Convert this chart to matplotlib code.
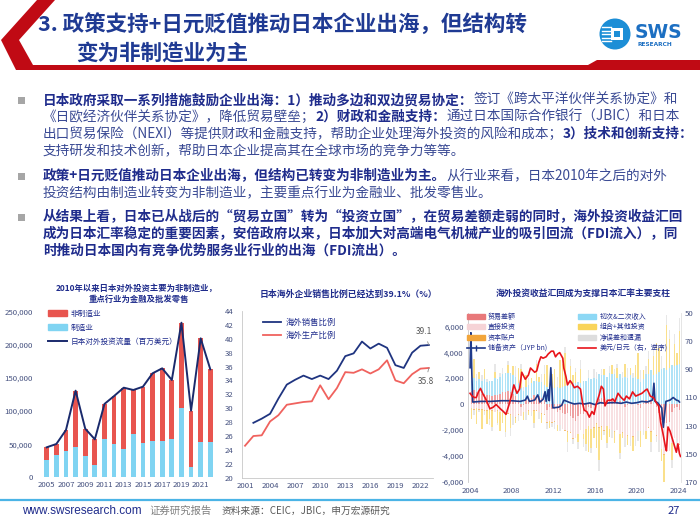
import numpy as np
import matplotlib
matplotlib.use("Agg")
import matplotlib.pyplot as plt
from matplotlib.patches import Polygon, Rectangle, Circle, Patch
from matplotlib.lines import Line2D
from matplotlib.ticker import FuncFormatter, MultipleLocator

plt.rcParams["font.family"] = ["Noto Sans CJK SC", "DejaVu Sans"]
plt.rcParams["axes.unicode_minus"] = False

NAVY = "#1F2C8C"
BODY = "#3A4A94"
TICK = "#44507F"
GRAY_SPINE = "#C8C8C8"

# ---- chart 1: Japan outward FDI (USD mn)
fdi_years = list(range(2005, 2023))
fdi_manuf = [26000, 33700, 39700, 45300, 32700, 18100, 58300, 50300, 43300,
             65400, 51300, 54300, 55300, 57800, 105100, 16100, 52800, 52800]
fdi_nonmanuf = [19300, 16600, 31700, 85500, 40700, 39200, 52400, 72400, 92000,
                66400, 85500, 102700, 109200, 89100, 128300, 84500, 157000, 110200]

# ---- chart 2: overseas sales / production ratio (%)
sales_years = list(range(2002, 2024))
sales_ratio = [27.9, 28.5, 29.2, 31.4, 33.4, 34.1, 34.7, 34.2, 34.7, 34.2, 35.4,
               37.5, 37.9, 39.6, 38.6, 39.3, 38.7, 36.2, 35.8, 38.0, 39.0, 39.1]
prod_years = list(range(2001, 2024))
prod_ratio = [24.6, 26.0, 26.1, 28.1, 29.0, 30.5, 30.7, 30.9, 31.0, 33.3, 31.3, 32.9,
              35.2, 35.1, 35.6, 35.0, 35.6, 36.9, 34.0, 33.6, 34.9, 35.7, 35.8]

# ---- chart 3: balance of payments components (JPY bn, quarterly, 2004Q1-2024Q1)
bop_start = 2004
trade = [1000, 1100, 900, 900, 800, 800, 700, 700, 600, 700, 700, 800,
         900, 900, 1000, 900, 800, 600, 300, -200, -100, 300, 400, 500,
         700, 600, 600, 500, 300, -500, -200, -400, -400, -600, -500, -700,
         -800, -700, -900, -1100, -1300, -900, -800, -800, -500, -200, -300, -100,
         100, 400, 500, 400, 300, 400, 400, 300, 100, 200, 0, -200,
         -100, 0, 0, 0, -100, -300, 100, 300, 200, 300, 0, -200,
         -700, -1200, -1500, -1500, -1400, -600, -300, -200, -500]
direct_inv = [-300, -400, -300, -400, -400, -500, -500, -400, -500, -600, -500, -600,
              -600, -800, -700, -800, -900, -1000, -800, -700, -500, -600, -500, -600,
              -500, -500, -600, -700, -800, -900, -1100, -1000, -900, -1000, -1100, -1200,
              -1200, -1400, -1300, -1500, -1300, -1400, -1200, -1500, -1400, -1500, -1600, -1700,
              -1500, -1800, -1700, -2000, -1700, -1900, -2000, -2100, -2000, -2300, -2200, -2400,
              -2300, -2600, -2500, -2700, -2000, -1800, -1900, -2100, -1800, -2100, -2000, -2200,
              -2100, -2300, -2400, -2200, -2200, -2400, -2300, -2500, -2600]
capital_annual = [-30, -40, -50, -40, -50, -30, -40, -40, -60, -70, -40,
                  -20, -60, -30, -20, -40, -20, -40, -10, -40, -30]
income = [800, 900, 900, 1000, 1000, 1100, 1000, 1100, 1200, 1300, 1200, 1300,
          1400, 1500, 1400, 1500, 1400, 1500, 1300, 1200, 1000, 1000, 1100, 1100,
          1100, 1200, 1100, 1200, 1200, 1300, 1200, 1200, 1200, 1300, 1200, 1300,
          1400, 1600, 1500, 1600, 1600, 1700, 1600, 1800, 1800, 2000, 1900, 2000,
          1800, 1900, 1700, 1800, 1800, 2000, 1900, 2000, 1900, 2100, 2000, 2100,
          2000, 2200, 2000, 2100, 1900, 1700, 1800, 2000, 2100, 2300, 2200, 2300,
          2500, 2700, 2800, 2600, 2800, 3000, 2900, 3000, 3100]
portfolio = [-800, 1500, -1200, 600, -1500, 800, -1000, -700, -1200, 500, -900, -1400,
             -800, -1300, 600, -1000, 700, -400, 1200, 1500, -600, 900, -300, 400,
             -900, 1300, 400, -700, 800, 1700, -500, 1100, 1500, -400, 2200, 1800,
             2500, -800, 1400, 600, 900, -600, 1100, -400, -1200, -2000, -1500, -800,
             -1800, -2500, -1000, 500, -1300, -600, 700, -900, 800, -1500, -400, 1000,
             -700, 600, -1100, 900, 2000, -1200, 700, -600, 1200, -800, 1500, 2400,
             1800, -900, -5000, 3500, 2200, -1300, 1700, 900, 2500]
errors = [300, -400, 500, -200, 400, -300, 200, -500, -300, 600, -200, 300,
          500, -400, 300, -600, -700, 800, -500, 400, 300, -600, 500, -300,
          -400, 300, -500, 600, 700, -500, 400, -300, -600, 800, -400, 500,
          500, -700, 600, -400, 300, -500, 700, -600, -500, 600, -400, 700,
          600, -800, 500, -300, -400, 500, -600, 400, 300, -400, 500, -700,
          800, -600, 400, -500, -700, 900, -500, 600, 600, -800, 700, -500,
          -900, 1000, -700, 800, 700, -600, 800, -900, 1000]

reserve_t = [2004.0, 2004.08, 2004.17, 2004.25, 2005.0, 2006.0, 2007.0, 2008.0, 2008.8,
             2009.3, 2009.5, 2009.7, 2010.2, 2010.5, 2010.7, 2011.0, 2011.2, 2011.3,
             2011.5, 2011.6, 2011.75, 2011.85, 2011.95, 2012.5, 2012.8, 2013.0, 2013.3,
             2013.6, 2014.0, 2014.5, 2015.0, 2015.5, 2016.0, 2016.5, 2017.0, 2017.5,
             2018.0, 2018.5, 2019.0, 2019.5, 2020.0, 2020.5, 2021.0, 2021.5, 2021.65,
             2021.75, 2022.0, 2022.4, 2022.55, 2022.7, 2022.8, 2023.2, 2023.5, 2023.8,
             2024.0, 2024.1]
reserve_v = [2800, 5500, 2300, 150, 200, 200, 250, 250, 200,
             300, 600, 200, 300, 700, 150, 350, 950, 200,
             1100, 250, 2800, 1200, -300, -250, -100, 300, 200,
             100, 0, 50, 0, 80, -50, 100, 50, 100,
             100, 50, 150, 50, 100, 200, 150, 300, 1600,
             200, 100, -300, -1800, -600, 200, 300, 500, 300,
             250, 150]

usdjpy_t = [2004.0, 2004.2, 2004.4, 2004.6, 2004.8, 2005.0, 2005.2, 2005.5, 2005.9, 2006.2,
            2006.5, 2006.9, 2007.2, 2007.45, 2007.7, 2008.0, 2008.2, 2008.5, 2008.75, 2008.96,
            2009.3, 2009.6, 2009.8, 2010.2, 2010.4, 2010.6, 2010.8, 2011.0, 2011.3, 2011.5,
            2011.8, 2012.0, 2012.2, 2012.4, 2012.6, 2012.9, 2013.0, 2013.2, 2013.35, 2013.6,
            2013.8, 2014.0, 2014.3, 2014.6, 2014.8, 2014.95, 2015.2, 2015.45, 2015.7, 2015.9,
            2016.1, 2016.4, 2016.6, 2016.8, 2016.95, 2017.2, 2017.5, 2017.7, 2017.9, 2018.2,
            2018.5, 2018.8, 2019.0, 2019.3, 2019.6, 2019.9, 2020.2, 2020.5, 2020.8, 2021.0,
            2021.3, 2021.6, 2021.9, 2022.1, 2022.3, 2022.5, 2022.75, 2022.85, 2023.0, 2023.2,
            2023.4, 2023.6, 2023.8, 2023.95, 2024.1, 2024.2]
usdjpy_v = [107, 109, 110, 110, 106, 103.5, 107, 111, 118, 117,
            115, 118, 120, 122, 116, 108, 101, 107, 104, 92,
            97, 94, 89, 92, 91, 85, 81, 82, 81, 79,
            77, 77, 81, 79, 78, 82, 89, 95, 101, 98,
            100, 103, 102, 104, 114, 119, 120, 124, 120, 122,
            115, 108, 102, 104, 116, 112, 112, 111, 113, 107,
            110, 112, 109, 111, 106, 109, 108, 107, 105, 104,
            109, 110, 114, 116, 128, 135, 145, 148, 131, 134,
            139, 144, 149, 143, 150, 152]

fig = plt.figure(figsize=(7, 5.25), dpi=100)
fig.patch.set_facecolor("white")

# full-figure overlay in pixel units for the slide decoration and text
bg = fig.add_axes([0, 0, 1, 1])
bg.set_xlim(0, 700)
bg.set_ylim(525, 0)
bg.axis("off")

# header ribbon
bg.add_patch(Polygon([(37, 0), (55, 0), (19, 40), (33, 65), (588, 65), (597, 60),
                      (700, 60), (700, 70), (16, 70), (1, 40)],
                     closed=True, color="#C00A14", lw=0))
bg.text(38, 25, "3. 政策支持+日元贬值推动日本企业出海，但结构转", fontsize=15.5,
        fontweight="bold", color="#1F3A93", va="center")
bg.text(76, 53, "变为非制造业为主", fontsize=15.5, fontweight="bold",
        color="#1F3A93", va="center")

# logo
bg.add_patch(Circle((615, 34), 15.5, color="#1C8ED6", lw=0))
for yy in [27, 30.5, 34, 37.5, 41]:
    bg.plot([602, 611], [yy, yy], color="white", lw=1.0)
bg.add_patch(Rectangle((611, 28), 12, 12, color="white", lw=0))
bg.add_patch(Rectangle((614, 31), 6, 6, color="#1C8ED6", lw=0))
bg.text(635, 32, "SWS", fontsize=13.5, fontweight="bold", color="#1C6FC2",
        va="center", family=["DejaVu Sans"])
bg.text(637, 45, "RESEARCH", fontsize=4.2, fontweight="bold", color="#1C6FC2",
        va="center", family=["DejaVu Sans"])

# body bullets
B, N = True, False
paragraphs = [
    [[("日本政府采取一系列措施鼓励企业出海：1）推动多边和双边贸易协定：", B),
      ("签订《跨太平洋伙伴关系协定》和", N)],
     [("《日欧经济伙伴关系协定》，降低贸易壁垒；", N), ("2）财政和金融支持：", B),
      ("通过日本国际合作银行（JBIC）和日本", N)],
     [("出口贸易保险（NEXI）等提供财政和金融支持，帮助企业处理海外投资的风险和成本；", N),
      ("3）技术和创新支持：", B)],
     [("支持研发和技术创新，帮助日本企业提高其在全球市场的竞争力等等。", N)]],
    [[("政策+日元贬值推动日本企业出海，但结构已转变为非制造业为主。", B),
      ("从行业来看，日本2010年之后的对外", N)],
     [("投资结构由制造业转变为非制造业，主要重点行业为金融业、批发零售业。", N)]],
    [[("从结果上看，日本已从战后的“贸易立国”转为“投资立国”，在贸易差额走弱的同时，海外投资收益汇回", B)],
     [("成为日本汇率稳定的重要因素，安倍政府以来，日本加大对高端电气机械产业的吸引回流（FDI流入），同", B)],
     [("时推动日本国内有竞争优势服务业行业的出海（FDI流出）。", B)]],
]
line_y = [[100, 117, 134, 151], [176, 193], [217, 234, 251]]

fig.canvas.draw()
renderer = fig.canvas.get_renderer()
for para, ys in zip(paragraphs, line_y):
    bg.add_patch(Rectangle((18, ys[0] - 3.5), 7, 7, color="#A6A6A6", lw=0))
    for segs, y in zip(para, ys):
        x = 43
        for s, bold in segs:
            t = bg.text(x, y, s, fontsize=9.8, va="center", ha="left",
                        fontweight="bold" if bold else "normal",
                        color=NAVY if bold else BODY)
            x += t.get_window_extent(renderer=renderer).width

# footer
bg.plot([0, 700], [500, 500], color="#4BB4E6", lw=1.6)
bg.text(22, 511, "www.swsresearch.com", fontsize=8.5, color=NAVY, va="center",
        family=["Liberation Sans", "DejaVu Sans"])
bg.text(149, 511, "证券研究报告", fontsize=7.5, color="#808080", va="center")
bg.text(222, 511, "资料来源：CEIC，JBIC，申万宏源研究", fontsize=7, color="#595959", va="center")
bg.text(668, 511, "27", fontsize=8, color=NAVY, va="center")

# chart titles
bg.text(137, 288, "2010年以来日本对外投资主要为非制造业，", ha="center", va="center",
        fontsize=6, fontweight="bold", color=NAVY)
bg.text(139, 299, "重点行业为金融及批发零售", ha="center", va="center",
        fontsize=6, fontweight="bold", color=NAVY)
bg.text(348, 294, "日本海外企业销售比例已经达到39.1%（%）", ha="center", va="center",
        fontsize=6.4, fontweight="bold", color=NAVY)
bg.text(583, 293, "海外投资收益汇回成为支撑日本汇率主要支柱", ha="center", va="center",
        fontsize=6.3, fontweight="bold", color=NAVY)


def px_axes(left, top, right, bottom):
    return fig.add_axes([left / 700, 1 - bottom / 525, (right - left) / 700, (bottom - top) / 525])


# ---- chart 1
ax1 = px_axes(40, 311.7, 218, 477.3)
ax1.set_facecolor("none")
total = np.array(fdi_manuf) + np.array(fdi_nonmanuf)
ax1.bar(fdi_years, fdi_manuf, width=0.5, color="#80D4F2", lw=0)
ax1.bar(fdi_years, fdi_nonmanuf, bottom=fdi_manuf, width=0.5, color="#E8554F", lw=0)
ax1.plot(fdi_years, total, color="#1A2A6C", lw=1.4)
ax1.set_xlim(2004.3, 2022.8)
ax1.set_ylim(0, 250000)
ax1.set_xticks(range(2005, 2022, 2))
ax1.yaxis.set_major_locator(MultipleLocator(50000))
ax1.yaxis.set_major_formatter(FuncFormatter(lambda v, p: f"{v:,.0f}"))
ax1.tick_params(axis="both", length=0, labelsize=5.6, labelcolor=TICK)
ax1.tick_params(axis="y", pad=5)
ax1.tick_params(axis="x", pad=3)
for s in ax1.spines.values():
    s.set_visible(False)
ax1.legend(handles=[Patch(color="#E8554F"), Patch(color="#80D4F2"),
                    Line2D([], [], color="#1A2A6C", lw=1.4)],
           labels=["非制造业", "制造业", "日本对外投资流量（百万美元）"],
           loc="upper left", bbox_to_anchor=(0.03, 1.03), frameon=False,
           fontsize=5.5, labelcolor=NAVY, handlelength=2.4, handleheight=0.8,
           labelspacing=0.8, handletextpad=0.5, borderaxespad=0)

# ---- chart 2
ax2 = px_axes(242, 311, 433, 477.7)
ax2.set_facecolor("none")
ax2.plot(sales_years, sales_ratio, color="#1F3480", lw=1.3, label="海外销售比例")
ax2.plot(prod_years, prod_ratio, color="#F0625E", lw=1.3, label="海外生产比例")
ax2.set_xlim(2000.64, 2023.5)
ax2.set_ylim(20, 44)
ax2.set_xticks(range(2001, 2023, 3))
ax2.yaxis.set_major_locator(MultipleLocator(2))
ax2.tick_params(axis="both", length=0, labelsize=5.6, labelcolor=TICK)
ax2.tick_params(axis="y", pad=6)
ax2.tick_params(axis="x", pad=3)
for k in ["top", "right"]:
    ax2.spines[k].set_visible(False)
for k in ["left", "bottom"]:
    ax2.spines[k].set_color(GRAY_SPINE)
    ax2.spines[k].set_linewidth(0.6)
ax2.annotate(f"{sales_ratio[-1]}", xy=(sales_years[-1], sales_ratio[-1]),
             xytext=(2022.4, 41.0), fontsize=6, color="#595959", ha="center", va="center",
             arrowprops=dict(arrowstyle="-", color="#8C8C8C", lw=0.6,
                             shrinkA=2, shrinkB=0), annotation_clip=False)
ax2.annotate(f"{prod_ratio[-1]}", xy=(prod_years[-1], prod_ratio[-1]),
             xytext=(2022.6, 33.8), fontsize=6, color="#595959", ha="center", va="center",
             arrowprops=dict(arrowstyle="-", color="#8C8C8C", lw=0.6,
                             shrinkA=2, shrinkB=0), annotation_clip=False)
ax2.legend(loc="upper left", bbox_to_anchor=(0.09, 0.98), frameon=False, fontsize=6,
           labelcolor=NAVY, handlelength=2.2, labelspacing=0.55, handletextpad=0.6,
           borderaxespad=0)

# ---- chart 3
ax3 = px_axes(468, 313.3, 680.5, 481.7)
ax3.set_facecolor("none")
n_q = len(income)
q_x = bop_start + np.arange(n_q) * 0.25 + 0.125
capital = np.repeat(capital_annual, 4)[:n_q]
bop_series = [
    ("贸易差额", trade, "#E8787A"),
    ("直接投资", direct_inv, "#F6D3D6"),
    ("资本账户", capital, "#F2A53A"),
    ("初次&二次收入", income, "#8DD8F5"),
    ("组合+其他投资", portfolio, "#F9D45A"),
    ("净误差和遗漏", errors, "#DDDDDD"),
]
pos_base = np.zeros(n_q)
neg_base = np.zeros(n_q)
for name, vals, col in bop_series:
    v = np.asarray(vals, dtype=float)
    base = np.where(v >= 0, pos_base, neg_base)
    ax3.bar(q_x, v, bottom=base, width=0.14, color=col, lw=0, alpha=0.7)
    pos_base += np.clip(v, 0, None)
    neg_base += np.clip(v, None, 0)
ax3.plot(reserve_t, reserve_v, color="#1F3A8A", lw=1.2)
ax3.set_xlim(2003.8, 2024.2)
ax3.set_ylim(-6000, 7000)
ax3.set_yticks(range(-6000, 6001, 2000))
ax3.yaxis.set_major_formatter(FuncFormatter(lambda v, p: f"{v:,.0f}"))
ax3.set_xticks(range(2004, 2025, 4))
ax3.tick_params(axis="both", length=0, labelsize=5.6, labelcolor=TICK)
ax3.tick_params(axis="y", pad=3)
ax3.tick_params(axis="x", pad=4)
for k in ["top", "bottom"]:
    ax3.spines[k].set_visible(False)
ax3.spines["left"].set_color(GRAY_SPINE)
ax3.spines["left"].set_linewidth(0.6)
ax3.spines["right"].set_visible(False)

ax3r = ax3.twinx()
ax3r.plot(usdjpy_t, usdjpy_v, color="#E8141B", lw=1.2)
ax3r.set_ylim(170, 50)
ax3r.set_yticks(range(50, 171, 20))
ax3r.tick_params(axis="y", length=0, labelsize=5.6, labelcolor=TICK, pad=3)
for k in ["top", "bottom", "left"]:
    ax3r.spines[k].set_visible(False)
ax3r.spines["right"].set_color("#E0E0E0")
ax3r.spines["right"].set_linewidth(0.6)

handles = [Patch(color=c) for _, _, c in bop_series[:3]]
handles.append(Line2D([], [], color="#1F3A8A", lw=1.2, marker="|", markersize=5))
handles += [Patch(color=c) for _, _, c in bop_series[3:]]
handles.append(Line2D([], [], color="#E8141B", lw=1.2))
labels = [s[0] for s in bop_series[:3]] + ["储备资产（JYP bn)"] + \
         [s[0] for s in bop_series[3:]] + ["美元/日元（右，逆序)"]
ax3r.legend(handles=handles, labels=labels, ncol=2, loc="upper left",
            bbox_to_anchor=(-0.02, 1.02), frameon=False, fontsize=5, labelcolor=NAVY,
            handlelength=2.6, handleheight=0.7, labelspacing=0.35, handletextpad=0.5,
            columnspacing=4.5, borderaxespad=0)

fig.savefig("out.png", dpi=100, facecolor="white")
